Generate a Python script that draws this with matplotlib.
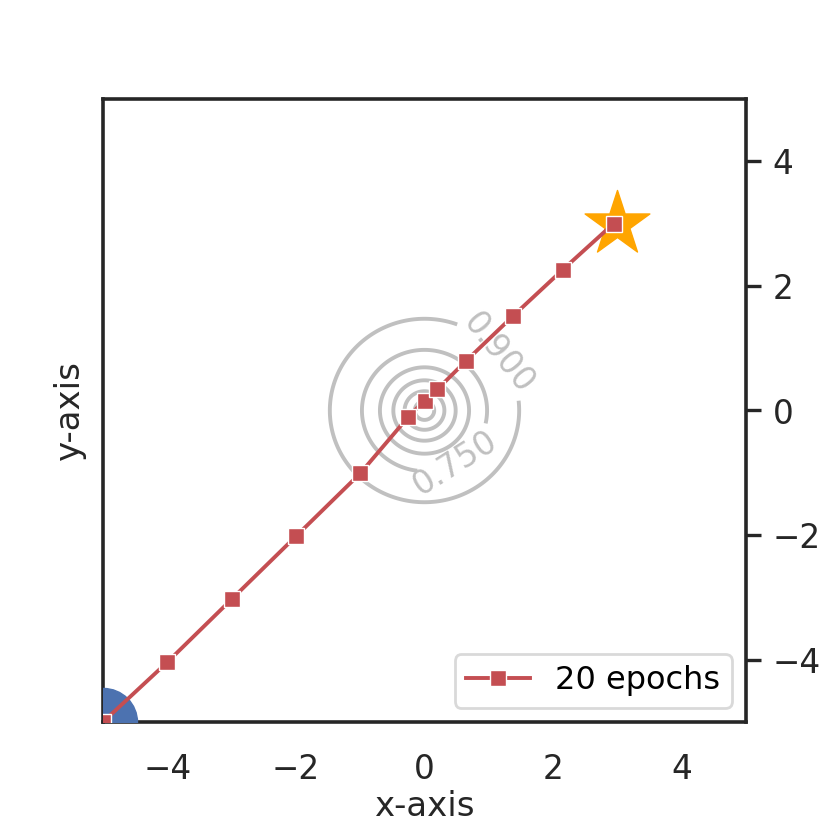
import numpy as np
import matplotlib
matplotlib.use("Agg")
import matplotlib.pyplot as plt

# optimisation path
path_x = [-5.0, -4.0, -3.0, -2.0, -1.0, -0.25, 0.0, 0.2, 0.64, 1.38, 2.15, 2.94]
path_y = [-5.0, -4.04, -3.03, -2.02, -1.01, -0.1, 0.16, 0.34, 0.79, 1.52, 2.26, 3.0]
start = (-5.0, -5.0)
goal = (3.0, 3.0)

plain_levels = [0.15, 0.30, 0.45, 0.60]
labelled = [0.75, 0.90]
label_pos = [(0.47, -0.83), (1.12, 0.88)]

ticks = [-4, -2, 0, 2, 4]
FS = 23.5

plt.rcParams["font.family"] = "DejaVu Sans"
fig = plt.figure(figsize=(8.3, 8.3), dpi=100)
ax = fig.add_axes([103 / 830, 108 / 830, 643 / 830, 623 / 830])

gx = np.linspace(-5, 5, 400)
X, Y = np.meshgrid(gx, gx)
Z = np.tanh(np.sqrt(X ** 2 + Y ** 2))
ax.contour(X, Y, Z, levels=plain_levels, colors="#c0c0c0", linewidths=2.8)
cs = ax.contour(X, Y, Z, levels=labelled, colors="#c0c0c0", linewidths=2.8)
ax.clabel(cs, inline=True, fontsize=FS, fmt="%1.3f", manual=label_pos)

ax.scatter([start[0]], [start[1]], s=2400, color="#4c72b0", zorder=3)
ax.scatter([goal[0]], [goal[1]], s=2400, marker="*", color="orange", zorder=3)
ax.plot(path_x, path_y, "-s", color="#c44e52", lw=2.8, ms=11,
        mec="white", mew=1.0, label="20 epochs", zorder=4)

ax.set_xlim(-5, 5)
ax.set_ylim(-5, 5)
ax.set_xticks(ticks)
ax.set_yticks(ticks)
ax.yaxis.tick_right()
ax.tick_params(axis="x", length=0, pad=22, labelsize=FS, colors="#262626")
ax.tick_params(axis="y", length=11, width=2.4, pad=8, labelsize=FS,
               colors="#262626")
ax.set_xlabel("x-axis", fontsize=24.5, color="#262626", labelpad=3)
ax.set_ylabel("y-axis", fontsize=24.5, color="#262626", labelpad=12)
ax.yaxis.set_label_position("left")
for sp in ax.spines.values():
    sp.set_linewidth(2.6)
    sp.set_color("#262626")

leg = ax.legend(loc="lower right", fontsize=23, frameon=True, fancybox=True,
                borderpad=0.35, handlelength=2.0, borderaxespad=0.45)
leg.get_frame().set_edgecolor("#d0d0d0")
leg.get_frame().set_linewidth(2.0)

fig.savefig("out.png", dpi=100)
